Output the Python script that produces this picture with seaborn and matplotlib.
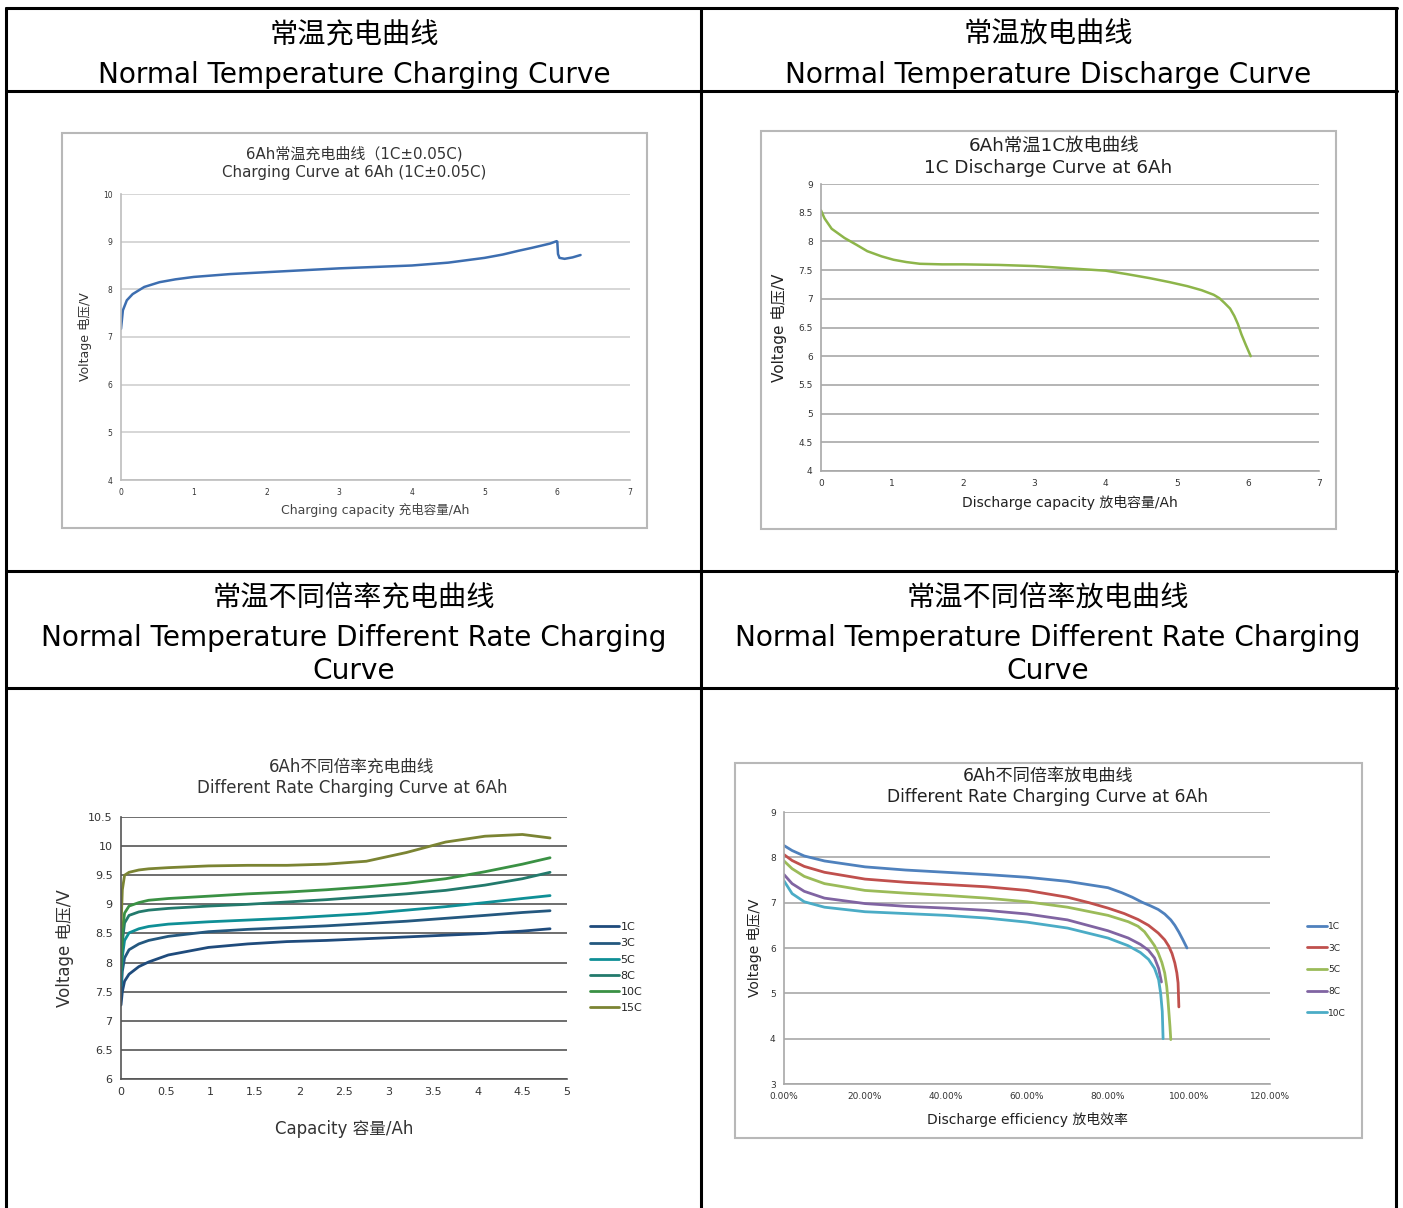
import matplotlib
matplotlib.use("Agg")
import matplotlib.pyplot as plt
import seaborn as sns
from matplotlib.lines import Line2D
from matplotlib.patches import Rectangle

sns.set_theme(style="white")
plt.rcParams['font.family'] = ['DejaVu Sans', 'Noto Sans CJK SC']

W, H = 1403, 1208

# ---- chart 1: normal temperature charging (1C)
chg_x = [0, 0.026, 0.08, 0.16, 0.32, 0.53, 0.75, 1.0, 1.5, 2.0, 2.5, 3.0, 3.5,
         4.0, 4.5, 5.0, 5.25, 5.47, 5.65, 5.79, 5.9, 5.99, 6.0, 6.01, 6.03, 6.1, 6.21, 6.32]
chg_v = [7.17, 7.56, 7.77, 7.9, 8.05, 8.15, 8.21, 8.26, 8.32, 8.36, 8.4, 8.44, 8.47,
         8.5, 8.56, 8.66, 8.73, 8.81, 8.87, 8.92, 8.96, 9.01, 9.0, 8.74, 8.66, 8.64, 8.67, 8.72]

# ---- chart 2: normal temperature discharge (1C)
dis_x = [0, 0.05, 0.15, 0.33, 0.5, 0.65, 0.85, 1.02, 1.2, 1.39, 1.7, 2.0, 2.5, 3.0,
         3.5, 4.0, 4.3, 4.62, 4.9, 5.15, 5.35, 5.52, 5.6, 5.67, 5.75, 5.81, 5.86, 5.91,
         5.97, 6.04]
dis_v = [8.54, 8.4, 8.22, 8.06, 7.94, 7.83, 7.74, 7.68, 7.64, 7.61, 7.6, 7.6, 7.59, 7.57,
         7.53, 7.49, 7.43, 7.36, 7.29, 7.22, 7.15, 7.07, 7.01, 6.93, 6.83, 6.7, 6.56, 6.38,
         6.2, 6.0]

# ---- chart 3: different rate charging
rate_x = [0, 0.015, 0.04, 0.09, 0.2, 0.31, 0.53, 0.98, 1.42, 1.86, 2.3, 2.75, 3.2,
          3.64, 4.08, 4.5, 4.81]
rate_labels = ['1C', '3C', '5C', '8C', '10C', '15C']
rate_v = {
    '1C':  [7.27, 7.5, 7.68, 7.8, 7.93, 8.01, 8.13, 8.26, 8.32, 8.36, 8.38, 8.41, 8.44,
            8.47, 8.5, 8.54, 8.58],
    '3C':  [7.45, 7.85, 8.08, 8.22, 8.32, 8.38, 8.45, 8.53, 8.57, 8.6, 8.63, 8.67, 8.71,
            8.76, 8.81, 8.86, 8.89],
    '5C':  [7.6, 8.1, 8.38, 8.51, 8.58, 8.62, 8.66, 8.7, 8.73, 8.76, 8.8, 8.84, 8.9,
            8.96, 9.03, 9.1, 9.15],
    '8C':  [7.75, 8.35, 8.68, 8.81, 8.87, 8.9, 8.93, 8.97, 9.0, 9.04, 9.08, 9.13, 9.18,
            9.24, 9.33, 9.44, 9.55],
    '10C': [7.9, 8.55, 8.85, 8.97, 9.03, 9.07, 9.1, 9.14, 9.18, 9.21, 9.25, 9.3, 9.36,
            9.44, 9.56, 9.69, 9.8],
    '15C': [8.6, 9.25, 9.5, 9.55, 9.59, 9.61, 9.63, 9.66, 9.67, 9.67, 9.69, 9.74, 9.89,
            10.07, 10.17, 10.2, 10.14],
}
rate_colors = ['#1f4b7c', '#24587f', '#0f8f96', '#237a6c', '#3a9144', '#7b8433']

# ---- chart 4: different rate discharge (efficiency)
eff_labels = ['1C', '3C', '5C', '8C', '10C']
eff_x = {
    '1C':  [0, 0.02, 0.05, 0.1, 0.2, 0.3, 0.4, 0.5, 0.6, 0.7, 0.8, 0.834, 0.86, 0.884,
            0.905, 0.924, 0.94, 0.955, 0.965, 0.975, 0.985, 0.995],
    '3C':  [0, 0.02, 0.05, 0.1, 0.2, 0.3, 0.4, 0.5, 0.6, 0.7, 0.753, 0.8, 0.84, 0.874,
            0.9, 0.924, 0.94, 0.95, 0.958, 0.965, 0.97, 0.973, 0.975],
    '5C':  [0, 0.02, 0.05, 0.1, 0.2, 0.3, 0.4, 0.5, 0.6, 0.7, 0.8, 0.85, 0.874, 0.89,
            0.904, 0.915, 0.924, 0.933, 0.94, 0.945, 0.948, 0.953, 0.955],
    '8C':  [0, 0.02, 0.05, 0.1, 0.2, 0.3, 0.4, 0.5, 0.6, 0.7, 0.8, 0.85, 0.88, 0.9,
            0.915, 0.925, 0.932],
    '10C': [0, 0.02, 0.05, 0.1, 0.2, 0.3, 0.4, 0.5, 0.6, 0.7, 0.8, 0.85, 0.88, 0.9,
            0.915, 0.925, 0.93, 0.934, 0.936],
}
eff_v = {
    '1C':  [8.26, 8.15, 8.03, 7.92, 7.79, 7.72, 7.67, 7.62, 7.56, 7.47, 7.33, 7.22, 7.12,
            7.01, 6.93, 6.85, 6.75, 6.62, 6.5, 6.35, 6.18, 6.0],
    '3C':  [8.06, 7.93, 7.8, 7.67, 7.52, 7.45, 7.4, 7.35, 7.27, 7.12, 7.0, 6.88, 6.76,
            6.63, 6.5, 6.33, 6.18, 6.04, 5.88, 5.67, 5.45, 5.23, 4.7],
    '5C':  [7.92, 7.75, 7.58, 7.42, 7.27, 7.21, 7.16, 7.1, 7.02, 6.9, 6.72, 6.58, 6.48,
            6.36, 6.19, 6.05, 5.89, 5.68, 5.45, 5.15, 4.86, 4.27, 3.98],
    '8C':  [7.62, 7.42, 7.25, 7.1, 6.98, 6.92, 6.88, 6.83, 6.75, 6.62, 6.38, 6.22, 6.08,
            5.95, 5.78, 5.55, 5.25],
    '10C': [7.48, 7.2, 7.02, 6.9, 6.8, 6.76, 6.72, 6.66, 6.57, 6.44, 6.22, 6.05, 5.9,
            5.75, 5.55, 5.3, 5.0, 4.6, 4.0],
}
eff_colors = ['#4f81bd', '#c0504d', '#9bbb59', '#8064a2', '#4bacc6']
eff_ticks = [0, 0.2, 0.4, 0.6, 0.8, 1.0, 1.2]
eff_ticklabels = ['0.00%', '20.00%', '40.00%', '60.00%', '80.00%', '100.00%', '120.00%']

fig = plt.figure(figsize=(W / 100, H / 100), dpi=100)


def px_axes(x0, y0, x1, y1):
    return fig.add_axes([x0 / W, 1 - y1 / H, (x1 - x0) / W, (y1 - y0) / H])


def hline(y, x0=6, x1=1397):
    fig.add_artist(Line2D([x0 / W, x1 / W], [1 - y / H, 1 - y / H], color='black', lw=2.2))


def vline(x, y0=8, y1=1208):
    fig.add_artist(Line2D([x / W, x / W], [1 - y0 / H, 1 - y1 / H], color='black', lw=2.2))


def frame(x0, y0, x1, y1):
    fig.add_artist(Rectangle((x0 / W, 1 - y1 / H), (x1 - x0) / W, (y1 - y0) / H,
                             fill=False, ec='#b8b8b8', lw=1.5))


def ftext(x, y, s, size, color='black', **kw):
    fig.text(x / W, 1 - y / H, s, fontsize=size, ha='center', va='center', color=color, **kw)


# table grid
for y in [8, 91, 571, 688]:
    hline(y)
for x in [6, 701, 1396]:
    vline(x)

# headers
ftext(354, 35, '常温充电曲线', 20.3)
ftext(354, 75, 'Normal Temperature Charging Curve', 20.2)
ftext(1048, 35, '常温放电曲线', 20.3)
ftext(1048, 75, 'Normal Temperature Discharge Curve', 20.2)
ftext(354, 598, '常温不同倍率充电曲线', 20.3)
ftext(354, 638, 'Normal Temperature Different Rate Charging', 20.2)
ftext(354, 671, 'Curve', 20.2)
ftext(1048, 598, '常温不同倍率放电曲线', 20.3)
ftext(1048, 638, 'Normal Temperature Different Rate Charging', 20.2)
ftext(1048, 671, 'Curve', 20.2)


def style_axes(ax, gridcol, spinecol, tsize):
    for s in ['top', 'right']:
        ax.spines[s].set_visible(False)
    ax.spines['left'].set_color(spinecol)
    ax.spines['bottom'].set_color(spinecol)
    ax.spines['left'].set_linewidth(1.2)
    ax.spines['bottom'].set_linewidth(1.2)
    ax.yaxis.grid(True, color=gridcol, lw=1.2)
    ax.xaxis.grid(False)
    ax.set_axisbelow(True)
    ax.tick_params(axis='both', length=0, labelsize=tsize, colors='#333333', pad=6)
    ax.set_facecolor('none')


# ---------- chart 1
frame(62, 133, 647, 528)
ax1 = px_axes(121, 194, 630, 480)
sns.lineplot(x=chg_x, y=chg_v, ax=ax1, color='#3d6eb0', lw=1.8, sort=False, estimator=None)
ax1.set_xlim(0, 7)
ax1.set_ylim(4, 10)
ax1.set_xticks(range(0, 8))
ax1.set_yticks(range(4, 11))
style_axes(ax1, '#cfcfcf', '#bdbdbd', 5.5)
ax1.set_xlabel('Charging capacity 充电容量/Ah', fontsize=9, color='#444444', labelpad=4)
ax1.set_ylabel('Voltage 电压/V', fontsize=9, color='#333333', labelpad=8)
ftext(354, 154, '6Ah常温充电曲线（1C±0.05C)', 10.8, color='#333333')
ftext(354, 172, 'Charging Curve at 6Ah (1C±0.05C)', 10.8, color='#333333')

# ---------- chart 2
frame(761, 131, 1336, 529)
ax2 = px_axes(821, 184, 1319, 471)
sns.lineplot(x=dis_x, y=dis_v, ax=ax2, color='#8db54a', lw=1.8, sort=False, estimator=None)
ax2.set_xlim(0, 7)
ax2.set_ylim(4, 9)
ax2.set_xticks(range(0, 8))
ax2.set_yticks([4, 4.5, 5, 5.5, 6, 6.5, 7, 7.5, 8, 8.5, 9])
ax2.set_yticklabels(['4', '4.5', '5', '5.5', '6', '6.5', '7', '7.5', '8', '8.5', '9'])
style_axes(ax2, '#a8a8a8', '#a8a8a8', 6.5)
ax2.set_xlabel('Discharge capacity 放电容量/Ah', fontsize=10, color='#222222', labelpad=5)
ax2.set_ylabel('Voltage 电压/V', fontsize=11, color='#222222', labelpad=8)
ftext(1054, 146, '6Ah常温1C放电曲线', 13.2, color='#222222')
ftext(1048, 168, '1C Discharge Curve at 6Ah', 13.2, color='#222222')

# ---------- chart 3
ax3 = px_axes(121, 817, 567, 1079)
for lab, col in zip(rate_labels, rate_colors):
    sns.lineplot(x=rate_x, y=rate_v[lab], ax=ax3, color=col, lw=2.0, label=lab,
                 sort=False, estimator=None)
ax3.set_xlim(0, 5)
ax3.set_ylim(6, 10.5)
ax3.set_xticks([0, 0.5, 1, 1.5, 2, 2.5, 3, 3.5, 4, 4.5, 5])
ax3.set_xticklabels(['0', '0.5', '1', '1.5', '2', '2.5', '3', '3.5', '4', '4.5', '5'])
ax3.set_yticks([6, 6.5, 7, 7.5, 8, 8.5, 9, 9.5, 10, 10.5])
ax3.set_yticklabels(['6', '6.5', '7', '7.5', '8', '8.5', '9', '9.5', '10', '10.5'])
style_axes(ax3, '#555555', '#555555', 8)
ax3.set_xlabel('Capacity 容量/Ah', fontsize=12, color='#333333', labelpad=16)
ax3.set_ylabel('Voltage 电压/V', fontsize=12, color='#333333', labelpad=10)
ax3.legend(loc='center left', bbox_to_anchor=(1.03, 0.425), frameon=False, fontsize=8,
           handlelength=2.6, handletextpad=0.1, labelspacing=0.55)
ftext(352, 767, '6Ah不同倍率充电曲线', 12, color='#333333')
ftext(352, 788, 'Different Rate Charging Curve at 6Ah', 12, color='#333333')

# ---------- chart 4
frame(735, 763, 1362, 1138)
ax4 = px_axes(784, 812, 1270, 1084)
for lab, col in zip(eff_labels, eff_colors):
    sns.lineplot(x=eff_x[lab], y=eff_v[lab], ax=ax4, color=col, lw=2.0, label=lab,
                 sort=False, estimator=None)
ax4.set_xlim(0, 1.2)
ax4.set_ylim(3, 9)
ax4.set_xticks(eff_ticks)
ax4.set_xticklabels(eff_ticklabels)
ax4.set_yticks(range(3, 10))
style_axes(ax4, '#a8a8a8', '#a8a8a8', 6.5)
ax4.set_xlabel('Discharge efficiency 放电效率', fontsize=10, color='#222222', labelpad=8)
ax4.set_ylabel('Voltage 电压/V', fontsize=10, color='#222222', labelpad=6)
ax4.legend(loc='center left', bbox_to_anchor=(1.06, 0.42), frameon=False, fontsize=6.5,
           handlelength=2.2, handletextpad=0.1, labelspacing=1.4)
ftext(1048, 776, '6Ah不同倍率放电曲线', 12.3, color='#222222')
ftext(1048, 797, 'Different Rate Charging Curve at 6Ah', 12.3, color='#222222')

fig.savefig('out.png', dpi=100, facecolor='white')
